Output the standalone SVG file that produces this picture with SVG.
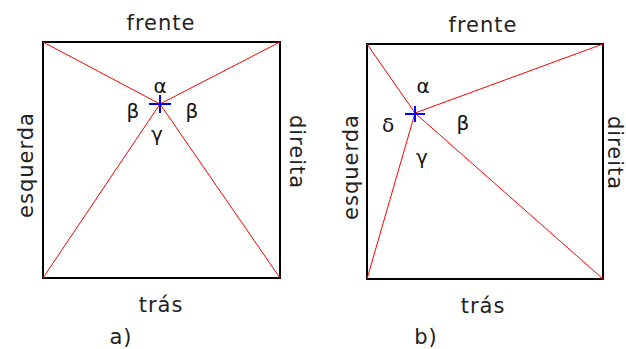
<svg xmlns="http://www.w3.org/2000/svg" width="626" height="349" viewBox="0 0 626 349">
<style>
.sq{fill:none;stroke:#000;stroke-width:2}
.ln{stroke:#f00;stroke-width:1;fill:none}
.pl{stroke:#00f;stroke-width:2;fill:none}
.lb{font-family:"DejaVu Sans",sans-serif;font-size:21px;fill:#222;letter-spacing:1px}
.gk{font-family:"DejaVu Sans",sans-serif;font-size:20px;fill:#111;text-anchor:middle}
</style>
<rect width="626" height="349" fill="#fff"/>
<g id="diagram-a">
<g id="square-a"><rect class="sq" x="43" y="42" width="237" height="236"/></g>
<g id="connectors-a">
<line class="ln" x1="160" y1="104" x2="43" y2="42"/>
<line class="ln" x1="160" y1="104" x2="280" y2="42"/>
<line class="ln" x1="160" y1="104" x2="43" y2="278"/>
<line class="ln" x1="160" y1="104" x2="280" y2="278"/>
</g>
<g id="point-a"><path class="pl" d="M149 104H171M160 95V113"/></g>
<text class="lb" x="161" y="30" text-anchor="middle">frente</text>
<text class="lb" x="161" y="312" text-anchor="middle">trás</text>
<text class="lb" x="121" y="344" text-anchor="middle">a)</text>
<text class="lb" transform="translate(33,165) rotate(-90)" text-anchor="middle">esquerda</text>
<text class="lb" transform="translate(290,152) rotate(90)" text-anchor="middle">direita</text>
<text class="gk" x="160" y="93">α</text>
<text class="gk" x="133" y="118">β</text>
<text class="gk" x="192" y="118">β</text>
<text class="gk" x="157" y="141">γ</text>
</g>
<g id="diagram-b">
<g id="square-b"><rect class="sq" x="367" y="44" width="236" height="235"/></g>
<g id="connectors-b">
<line class="ln" x1="415" y1="113" x2="367" y2="44"/>
<line class="ln" x1="415" y1="113" x2="603" y2="44"/>
<line class="ln" x1="415" y1="113" x2="367" y2="279"/>
<line class="ln" x1="415" y1="113" x2="603" y2="279"/>
</g>
<g id="point-b"><path class="pl" d="M405 114H425M415 106V122"/></g>
<text class="lb" x="483" y="32" text-anchor="middle">frente</text>
<text class="lb" x="483" y="313" text-anchor="middle">trás</text>
<text class="lb" x="426" y="344" text-anchor="middle">b)</text>
<text class="lb" transform="translate(358,167) rotate(-90)" text-anchor="middle">esquerda</text>
<text class="lb" transform="translate(608,153) rotate(90)" text-anchor="middle">direita</text>
<text class="gk" x="423" y="93">α</text>
<text class="gk" x="388" y="132">δ</text>
<text class="gk" x="463" y="130">β</text>
<text class="gk" x="422" y="164">γ</text>
</g>
</svg>
